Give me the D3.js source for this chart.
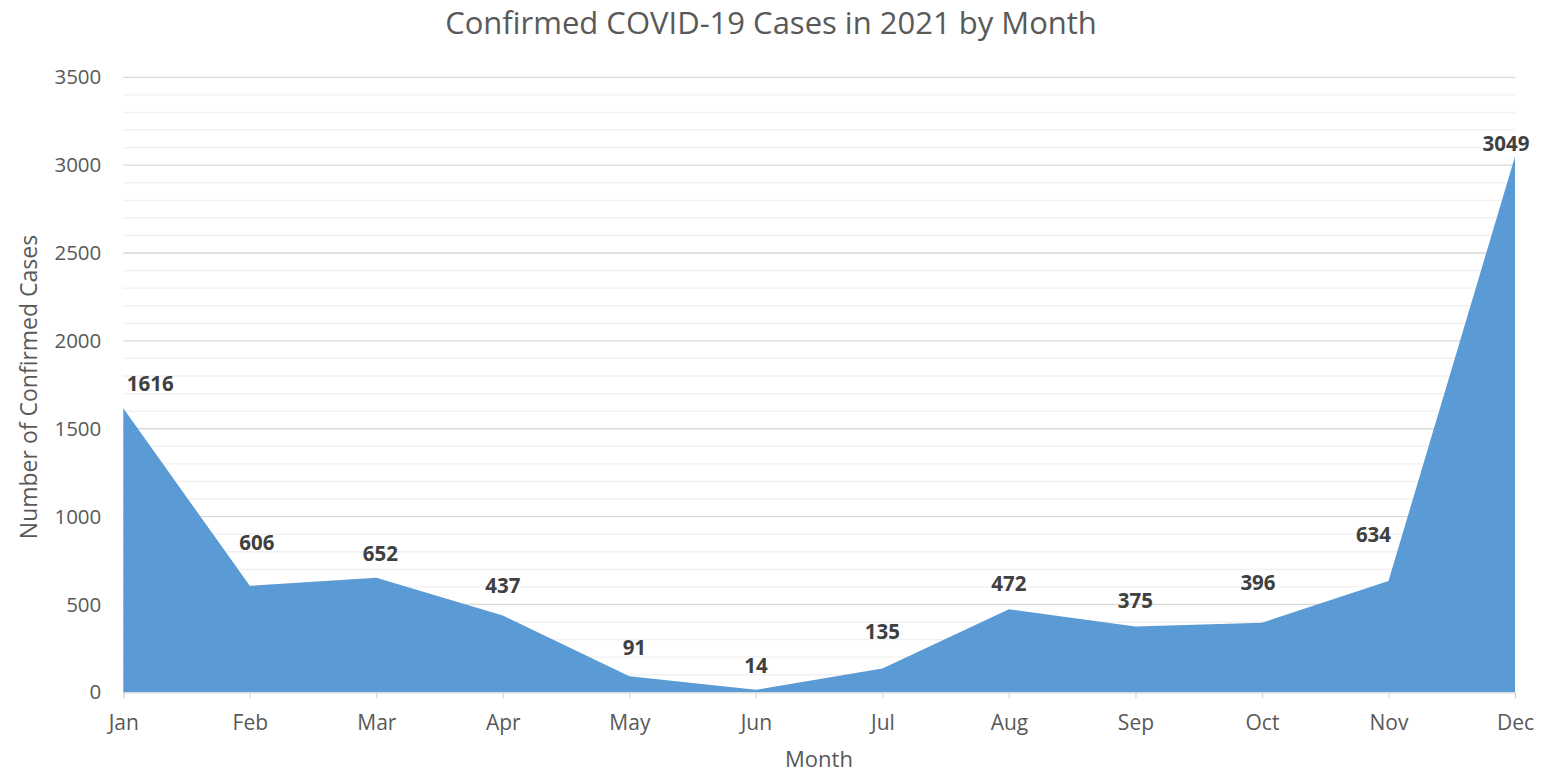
<!DOCTYPE html>
<html>
<head>
<meta charset="utf-8">
<script src="https://cdn.jsdelivr.net/npm/d3@7"></script>
<style>
  body { margin: 0; background: #fff; }
  svg { display: block; font-family: "Open Sans", sans-serif; }
</style>
</head>
<body>
<svg id="chart" width="1562" height="774"></svg>
<script>
const months = ['Jan', 'Feb', 'Mar', 'Apr', 'May', 'Jun', 'Jul', 'Aug', 'Sep', 'Oct', 'Nov', 'Dec'];
const cases = [1616, 606, 652, 437, 91, 14, 135, 472, 375, 396, 634, 3049];
const yTicks = [0, 500, 1000, 1500, 2000, 2500, 3000, 3500];

// where Excel put each data label relative to its point (px)
const labelLift = [25, 43, 24, 30, 28, 24, 37, 26, 26, 40, 46, 13];
const labelShift = [27, 7, 4, 0, 5, 0, 0, 0, 0, -4, -15, -9];

const width = 1562;
const height = 774;
const margin = { top: 77.3, right: 47, bottom: 81.7, left: 123.3 };

const svg = d3.select('#chart');

const x = d3
  .scalePoint()
  .domain(months)
  .range([margin.left, width - margin.right]);

const y = d3
  .scaleLinear()
  .domain([0, 3500])
  .range([height - margin.bottom, margin.top]);

// minor gridlines every 100
svg
  .append('g')
  .selectAll('line')
  .data(d3.range(100, 3500, 100).filter((v) => v % 500 !== 0))
  .enter()
  .append('line')
  .attr('x1', margin.left)
  .attr('x2', width - margin.right)
  .attr('y1', (d) => y(d))
  .attr('y2', (d) => y(d))
  .attr('stroke', '#f0f0f0')
  .attr('stroke-width', 1.3);

// major gridlines
svg
  .append('g')
  .selectAll('line')
  .data(yTicks.slice(1))
  .enter()
  .append('line')
  .attr('x1', margin.left)
  .attr('x2', width - margin.right)
  .attr('y1', (d) => y(d))
  .attr('y2', (d) => y(d))
  .attr('stroke', '#d9d9d9')
  .attr('stroke-width', 1.3);

// area
const area = d3
  .area()
  .x((d, i) => x(months[i]))
  .y0(y(0))
  .y1((d) => y(d));

svg.append('path').datum(cases).attr('d', area).attr('fill', '#5b9bd5');

// x axis
const xAxis = svg
  .append('g')
  .attr('transform', `translate(0,${y(0)})`)
  .call(d3.axisBottom(x).tickSize(6).tickPadding(17));
xAxis.select('.domain').attr('stroke', '#d9d9d9').attr('stroke-width', 1.3);
xAxis.selectAll('.tick line').attr('stroke', '#d9d9d9').attr('stroke-width', 1.3);
xAxis
  .selectAll('.tick text')
  .attr('fill', '#595959')
  .style('font-size', '21px')
  .style('font-family', '"Open Sans", sans-serif');

// y axis labels
const yAxis = svg
  .append('g')
  .attr('transform', `translate(${margin.left},0)`)
  .call(
    d3.axisLeft(y).tickValues(yTicks).tickFormat(d3.format('d')).tickSize(0).tickPadding(22)
  );
yAxis.select('.domain').remove();
yAxis
  .selectAll('.tick text')
  .attr('fill', '#595959')
  .style('font-size', '20.5px')
  .style('font-family', '"Open Sans", sans-serif');

// data labels
svg
  .append('g')
  .selectAll('text')
  .data(cases)
  .enter()
  .append('text')
  .attr('x', (d, i) => x(months[i]) + labelShift[i])
  .attr('y', (d, i) => y(d) - labelLift[i])
  .attr('dy', '0.35em')
  .attr('text-anchor', 'middle')
  .attr('fill', '#404040')
  .style('font-size', '20.5px')
  .style('font-weight', 'bold')
  .text((d) => d);

// title
svg
  .append('text')
  .attr('x', 771)
  .attr('y', 23)
  .attr('dy', '0.35em')
  .attr('text-anchor', 'middle')
  .attr('fill', '#595959')
  .style('font-size', '31px')
  .text('Confirmed COVID-19 Cases in 2021 by Month');

// axis titles
svg
  .append('text')
  .attr('x', 819)
  .attr('y', 759)
  .attr('dy', '0.35em')
  .attr('text-anchor', 'middle')
  .attr('fill', '#595959')
  .style('font-size', '22px')
  .text('Month');

svg
  .append('text')
  .attr('transform', 'translate(29,387) rotate(-90)')
  .attr('dy', '0.35em')
  .attr('text-anchor', 'middle')
  .attr('fill', '#595959')
  .style('font-size', '23px')
  .text('Number of Confirmed Cases');
</script>
</body>
</html>
